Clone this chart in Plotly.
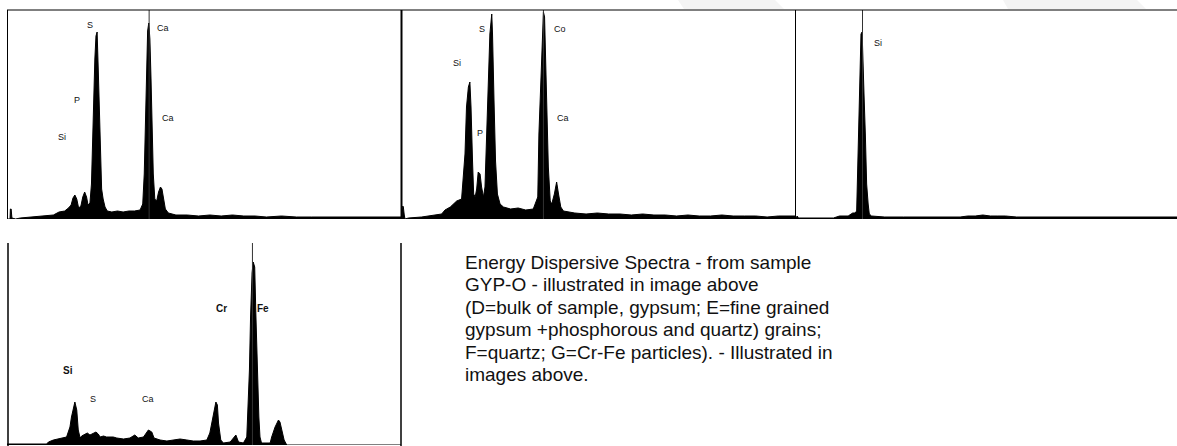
import plotly.graph_objects as go

W, H = 1177, 446

# ---------------- data (energy in keV, counts in arbitrary units) ----------------
d_energy = [-0.08, 0.0, 0.01, 0.03, 0.05, 0.15, 0.27, 0.6, 0.9, 1.15, 1.3, 1.45, 1.55, 1.62, 1.67,
            1.72, 1.77, 1.82, 1.88, 1.93, 1.98, 2.03, 2.07, 2.12, 2.16, 2.19, 2.22, 2.25, 2.28, 2.31,
            2.34, 2.37, 2.40, 2.43, 2.47, 2.52, 2.58, 2.7, 2.85, 3.0, 3.15, 3.3, 3.45, 3.52, 3.56,
            3.59, 3.62, 3.65, 3.68, 3.71, 3.74, 3.77, 3.80, 3.84, 3.89, 3.94, 3.99, 4.03, 4.07, 4.12,
            4.2, 4.4, 4.7, 5.0, 5.3, 5.6, 5.9, 6.2, 6.5, 6.8, 7.2, 7.6, 8.0, 8.5, 9.0, 9.5, 10.0, 10.37]
d_counts = [0, 0, 10, 10, 1, 0, 1, 2, 3, 4, 7, 8, 11, 14, 21,
            24, 20, 11, 13, 22, 27, 22, 14, 16, 35, 85, 120, 160, 183, 187,
            150, 100, 60, 30, 20, 12, 8, 7, 8, 7, 8, 8, 9, 15, 45,
            100, 145, 188, 196, 180, 140, 90, 45, 20, 18, 27, 32, 30, 20, 10,
            6, 4, 4, 3, 4, 3, 4, 3, 3, 2, 3, 2, 2, 2, 2, 2, 2, 2]

e_energy = [-0.08, -0.06, -0.045, -0.02, 0.0, 0.09, 0.44, 0.97, 1.06, 1.2, 1.37, 1.50, 1.59, 1.63,
            1.68, 1.72, 1.75, 1.79, 1.82, 1.86, 1.90, 1.94, 1.99, 2.03, 2.08, 2.12, 2.17, 2.21, 2.25,
            2.30, 2.32, 2.36, 2.40, 2.45, 2.52, 2.61, 2.8, 3.0, 3.2, 3.4, 3.52, 3.55, 3.60, 3.63,
            3.67, 3.70, 3.73, 3.77, 3.80, 3.85, 3.89, 3.96, 4.02, 4.07, 4.13, 4.20, 4.5, 4.8, 5.1,
            5.4, 5.7, 6.0, 6.3, 6.6, 6.9, 7.2, 7.5, 7.8, 8.1, 8.4, 8.7, 9.0, 9.3, 9.6, 9.9, 10.34]
e_counts = [0, 13, 12, 4, 0, 1, 2, 5, 9, 12, 18, 20, 65, 112,
            132, 137, 112, 58, 25, 22, 30, 47, 45, 32, 22, 32, 85, 135, 185,
            205, 185, 118, 58, 25, 15, 12, 10, 11, 9, 10, 22, 85, 132, 178,
            207, 202, 152, 102, 52, 18, 15, 25, 37, 25, 12, 8, 6, 5, 6,
            5, 5, 4, 5, 4, 4, 3, 4, 3, 3, 4, 3, 3, 3, 2, 3, 3]

f_energy = [-0.08, -0.04, -0.02, 0.01, 0.1, 0.5, 0.94, 1.1, 1.33, 1.45, 1.51, 1.555, 1.58, 1.62,
            1.64, 1.67, 1.70, 1.72, 1.75, 1.785, 1.82, 1.86, 1.89, 1.95, 2.3, 2.8, 3.3, 3.8, 4.3,
            4.5, 4.7, 4.9, 5.1, 5.3, 5.5, 5.8, 6.2, 6.6, 7.0, 7.5, 8.0, 8.5, 9.0, 9.5, 10.05]
f_counts = [0, 3, 3, 1, 1, 1, 1, 3, 3, 6, 6, 8, 48, 98,
            152, 185, 187, 168, 125, 85, 35, 15, 5, 3, 2, 2, 2, 2, 2,
            3, 3, 4, 3, 3, 3, 2, 2, 2, 2, 2, 2, 2, 2, 2, 2]

g_energy = [-0.08, 0.97, 1.02, 1.15, 1.50, 1.59, 1.63, 1.68, 1.72, 1.77, 1.81, 1.86, 1.90, 2.05,
            2.12, 2.28, 2.34, 2.39, 2.48, 2.56, 2.74, 2.83, 3.01, 3.18, 3.31, 3.40, 3.54, 3.67, 3.76,
            3.82, 3.98, 4.16, 4.33, 4.51, 4.69, 4.86, 5.04, 5.22, 5.30, 5.37, 5.41, 5.46, 5.50, 5.53,
            5.59, 5.66, 5.84, 5.99, 6.06, 6.19, 6.28, 6.31, 6.35, 6.38, 6.42, 6.45, 6.49, 6.52, 6.56,
            6.60, 6.63, 6.67, 6.90, 6.94, 7.03, 7.12, 7.16, 7.21, 7.27, 7.34, 10.37]
g_counts = [1, 1, 3, 5, 8, 18, 28, 38, 43, 35, 15, 7, 9, 12,
            10, 13, 11, 8, 9, 8, 8, 7, 6, 7, 10, 7, 8, 15, 13,
            7, 5, 4, 5, 6, 5, 4, 4, 5, 12, 25, 35, 43, 40, 22,
            5, 2, 3, 10, 3, 2, 8, 38, 75, 128, 172, 183, 178, 132, 68,
            28, 8, 2, 2, 8, 18, 25, 23, 15, 5, 0, 0]

spectra = [(d_energy, d_counts), (e_energy, e_counts), (f_energy, f_counts), (g_energy, g_counts)]
cursor_kev = [3.69, 3.67, 1.71, 6.43]

# peak labels: (panel, text, energy, count)
label_panel = [0, 0, 0, 0, 0, 1, 1, 1, 1, 1, 2, 3, 3, 3, 3, 3]
label_text = ["S", "Ca", "P", "Ca", "Si", "S", "Co", "Si", "P", "Ca", "Si", "Si", "S", "Ca", "Cr", "Fe"]
label_kev = [2.12, 4.06, 1.78, 4.19, 1.38, 2.04, 4.11, 1.38, 1.99, 4.19, 2.12, 1.54, 2.20, 3.66, 5.62, 6.71]
label_cnt = [194, 191, 119, 101, 82, 190, 190, 156, 86, 101, 176, 75, 46, 46, 137, 137]

caption_lines = [
    "Energy Dispersive Spectra - from sample",
    "GYP-O - illustrated in image above",
    "(D=bulk of sample, gypsum; E=fine grained",
    "gypsum +phosphorous and quartz) grains;",
    "F=quartz; G=Cr-Fe particles). - Illustrated in",
    "images above.",
]

# ---------------- layout geometry ----------------
def px(x):
    return x / W

def py(y):
    return 1 - y / H

panels = [
    dict(x0=7, x1=401, y0=10, y1=219, xr=[-0.08, 10.37], yr=[0, 209]),
    dict(x0=402, x1=795, y0=10, y1=219, xr=[-0.08, 10.34], yr=[0, 209]),
    dict(x0=795, x1=1177, y0=10, y1=219, xr=[-0.08, 10.05], yr=[0, 209]),
    dict(x0=7, x1=401, y0=243, y1=445, xr=[-0.08, 10.37], yr=[0, 202]),
]

fig = go.Figure()
layout = dict(width=W, height=H, margin=dict(l=0, r=0, t=0, b=0),
              paper_bgcolor="white", plot_bgcolor="white", showlegend=False)

for i, p in enumerate(panels):
    n = "" if i == 0 else str(i + 1)
    layout["xaxis" + n] = dict(domain=[px(p["x0"]), px(p["x1"])], range=p["xr"], visible=False,
                               anchor="y" + n, fixedrange=True)
    layout["yaxis" + n] = dict(domain=[py(p["y1"]), py(p["y0"])], range=p["yr"], visible=False,
                               anchor="x" + n, fixedrange=True)
    e, c = spectra[i]
    fig.add_trace(go.Scatter(x=e, y=c, mode="lines", fill="tozeroy", fillcolor="black",
                             line=dict(color="black", width=1), xaxis="x" + n, yaxis="y" + n,
                             hoverinfo="skip"))
    fig.add_trace(go.Scatter(x=[cursor_kev[i], cursor_kev[i]], y=[0, p["yr"][1]], mode="lines",
                             line=dict(color="#333", width=1), xaxis="x" + n, yaxis="y" + n,
                             hoverinfo="skip"))

fig.update_layout(**layout)

annotations = []
for pn, t, ek, ct in zip(label_panel, label_text, label_kev, label_cnt):
    n = "" if pn == 0 else str(pn + 1)
    bold = pn == 3 and t in ("Si", "Fe", "Cr")
    annotations.append(dict(x=ek, y=ct, xref="x" + n, yref="y" + n, text=("<b>%s</b>" % t) if bold else t,
                            showarrow=False, xanchor="center", yanchor="middle",
                            font=dict(family="Liberation Sans, Arial", size=10 if bold else 9,
                                      color="#111")))

cap_y = [262, 284.5, 307, 329.5, 352, 374.5]
for line, yy in zip(caption_lines, cap_y):
    annotations.append(dict(x=px(463), y=py(yy), xref="paper", yref="paper", text=line,
                            showarrow=False, xanchor="left", yanchor="middle",
                            font=dict(family="Liberation Sans, Arial", size=19, color="#111")))
fig.update_layout(annotations=annotations)

shapes = []
line_k = dict(color="black", width=1)
# top frame line
shapes.append(dict(type="line", xref="paper", yref="paper", x0=px(7), x1=1, y0=py(10), y1=py(10), line=line_k))
# panel borders (top row)
shapes.append(dict(type="line", xref="paper", yref="paper", x0=px(7.5), x1=px(7.5), y0=py(10), y1=py(219), line=line_k))
shapes.append(dict(type="line", xref="paper", yref="paper", x0=px(401.5), x1=px(401.5), y0=py(10), y1=py(219),
                   line=dict(color="black", width=2)))
shapes.append(dict(type="line", xref="paper", yref="paper", x0=px(795.5), x1=px(795.5), y0=py(10), y1=py(219), line=line_k))
# bottom spectrum borders
shapes.append(dict(type="line", xref="paper", yref="paper", x0=px(8), x1=px(8), y0=py(243), y1=0,
                   line=dict(color="black", width=1.5)))
shapes.append(dict(type="line", xref="paper", yref="paper", x0=px(401), x1=px(401), y0=py(243), y1=0,
                   line=dict(color="black", width=1.5)))
# faint watermark bands at the top
shapes.append(dict(type="path", xref="paper", yref="paper", layer="below",
                   path="M %f %f L %f %f L %f %f L %f %f Z" % (px(678), py(0), px(775), py(0), px(784), py(9), px(684), py(9)),
                   fillcolor="#f4f4f4", line=dict(width=0)))
shapes.append(dict(type="path", xref="paper", yref="paper", layer="below",
                   path="M %f %f L %f %f L %f %f L %f %f Z" % (px(1003), py(0), px(1137), py(0), px(1146), py(9), px(1008), py(9)),
                   fillcolor="#f4f4f4", line=dict(width=0)))
fig.update_layout(shapes=shapes)

fig.write_html("out.html", config={"displayModeBar": False, "staticPlot": True},
               post_script="document.body.style.margin='0px';document.body.style.overflow='hidden';")
